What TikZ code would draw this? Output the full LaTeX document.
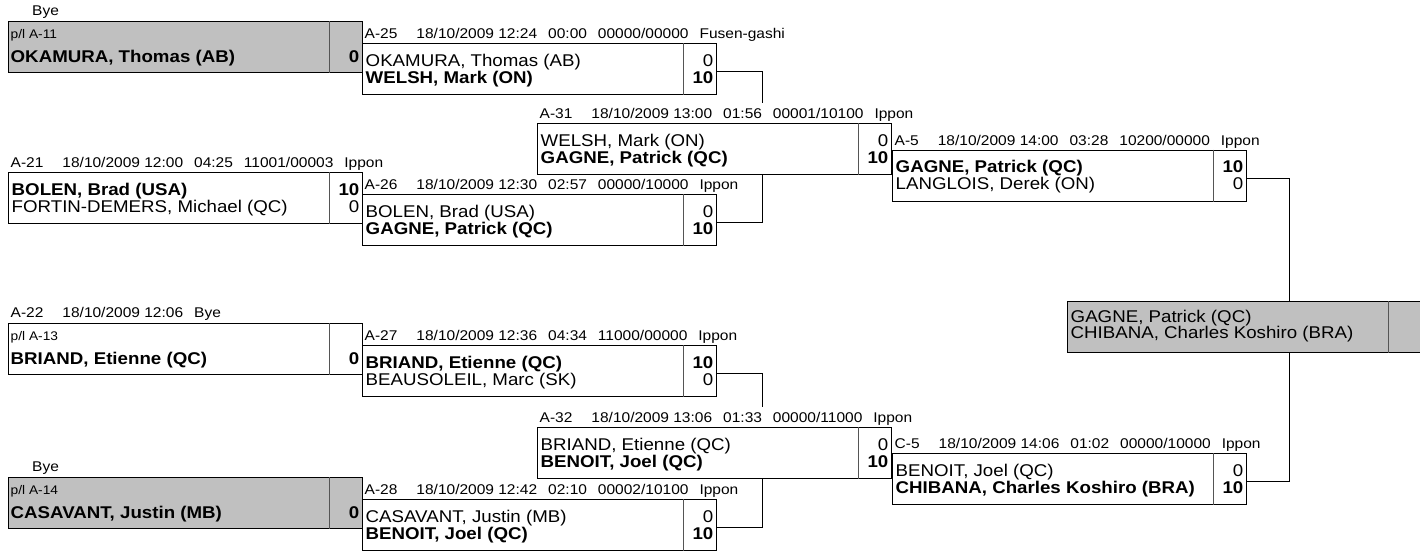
\documentclass[tikz,border=0pt]{standalone}
\usepackage{fontspec}
\setmainfont{Liberation Sans}[FakeStretch=1.1]
\usetikzlibrary{positioning, calc}
\definecolor{ByeGray}{HTML}{C0C0C0}
\definecolor{Rule}{HTML}{555555}
\newcommand{\namefont}{\fontsize{17pt}{17pt}\selectfont}
\newcommand{\hdrfont}{\fontsize{14.1pt}{14pt}\selectfont}
\newcommand{\tagfont}{\fontsize{12.5pt}{12pt}\selectfont}
\newcommand{\wgap}{\hspace{19pt}}
\newcommand{\ngap}{\hspace{11pt}}
\newcommand{\hd}[5]{#1\wgap#2\ngap#3\ngap#4\ngap#5}
\tikzset{
    box/.style={draw, line width=1pt, anchor=north west, minimum width=354pt, minimum height=51pt, inner sep=0pt},
    divider/.style={line width=0.8pt, draw=Rule},
    hdr/.style={anchor=base west, inner sep=0pt, font=\hdrfont},
    player/.style={anchor=base west, inner sep=0pt, font=\namefont},
    score/.style={anchor=base east, inner sep=0pt, font=\namefont},
    tag/.style={anchor=base west, inner sep=0pt, font=\tagfont},
    link/.style={line width=1pt},
}
% match: name, x, y, header, player 1, score 1, player 2, score 2
\newcommand{\matchbox}[8]{%
    \node[box] (#1) at (#2,#3) {};
    \draw[divider] ([xshift=-33pt]#1.north east) -- ([xshift=-33pt]#1.south east);
    \node[hdr] (#1h) at ([xshift=3pt,yshift=4.5pt]#1.north west) {#4};
    \node[player] (#1a) at ([xshift=4pt,yshift=-23pt]#1.north west) {#5};
    \node[score] (#1as) at ([xshift=-3pt,yshift=-23pt]#1.north east) {#6};
    \node[player] (#1b) at ([xshift=4pt,yshift=-40pt]#1.north west) {#7};
    \node[score] (#1bs) at ([xshift=-3pt,yshift=-40pt]#1.north east) {#8};
}
% bye: fill, name, x, y, header, pool tag, player
\newcommand{\byebox}[7][white]{%
    \node[box, fill=#1] (#2) at (#3,#4) {};
    \draw[divider] ([xshift=-33pt]#2.north east) -- ([xshift=-33pt]#2.south east);
    \node[hdr] (#2h) at ([xshift=3pt,yshift=5.5pt]#2.north west) {#5};
    \node[tag] (#2t) at ([xshift=3pt,yshift=-17pt]#2.north west) {p/l #6};
    \node[player] (#2a) at ([xshift=3pt,yshift=-41pt]#2.north west) {\bfseries #7};
    \node[score] (#2as) at ([xshift=-3pt,yshift=-41pt]#2.north east) {\bfseries 0};
}

\begin{document}
\begin{tikzpicture}[x=1pt, y=-1pt]
    \useasboundingbox (0,0) rectangle (1420,552);
    \clip (0,0) rectangle (1420,552);

    % Premier tour
    \byebox[ByeGray]{a11}{7.5}{21}{\hspace{21.5pt}Bye}{A-11}{OKAMURA, Thomas (AB)}
    \matchbox{a21}{7.5}{172}{\hd{A-21}{18/10/2009 12:00}{04:25}{11001/00003}{Ippon}}{\bfseries BOLEN, Brad (USA)}{\bfseries 10}{FORTIN-DEMERS, Michael (QC)}{0}
    \byebox{a22}{7.5}{323}{A-22\wgap 18/10/2009 12:06\ngap Bye}{A-13}{BRIAND, Etienne (QC)}
    \byebox[ByeGray]{a14}{7.5}{477}{\hspace{21.5pt}Bye}{A-14}{CASAVANT, Justin (MB)}

    % Deuxieme tour
    \matchbox{a25}{361.5}{43}{\hd{A-25}{18/10/2009 12:24}{00:00}{00000/00000}{Fusen-gashi}}{OKAMURA, Thomas (AB)}{0}{\bfseries WELSH, Mark (ON)}{\bfseries 10}
    \matchbox{a26}{361.5}{194}{\hd{A-26}{18/10/2009 12:30}{02:57}{00000/10000}{Ippon}}{BOLEN, Brad (USA)}{0}{\bfseries GAGNE, Patrick (QC)}{\bfseries 10}
    \matchbox{a27}{361.5}{345}{\hd{A-27}{18/10/2009 12:36}{04:34}{11000/00000}{Ippon}}{\bfseries BRIAND, Etienne (QC)}{\bfseries 10}{BEAUSOLEIL, Marc (SK)}{0}
    \matchbox{a28}{361.5}{499}{\hd{A-28}{18/10/2009 12:42}{02:10}{00002/10100}{Ippon}}{CASAVANT, Justin (MB)}{0}{\bfseries BENOIT, Joel (QC)}{\bfseries 10}

    % Troisieme tour
    \matchbox{a31}{536.5}{123}{\hd{A-31}{18/10/2009 13:00}{01:56}{00001/10100}{Ippon}}{WELSH, Mark (ON)}{0}{\bfseries GAGNE, Patrick (QC)}{\bfseries 10}
    \matchbox{a32}{536.5}{427}{\hd{A-32}{18/10/2009 13:06}{01:33}{00000/11000}{Ippon}}{BRIAND, Etienne (QC)}{0}{\bfseries BENOIT, Joel (QC)}{\bfseries 10}

    % Bronze
    \matchbox{a5}{891.5}{149.5}{\hd{A-5}{18/10/2009 14:00}{03:28}{10200/00000}{Ippon}}{\bfseries GAGNE, Patrick (QC)}{\bfseries 10}{LANGLOIS, Derek (ON)}{0}
    \matchbox{c5}{891.5}{453}{\hd{C-5}{18/10/2009 14:06}{01:02}{00000/10000}{Ippon}}{BENOIT, Joel (QC)}{0}{\bfseries CHIBANA, Charles Koshiro (BRA)}{\bfseries 10}

    % Resultat
    \node[box, fill=ByeGray] (fin) at (1066.5,301) {};
    \draw[divider] ([xshift=-33pt]fin.north east) -- ([xshift=-33pt]fin.south east);
    \node[player] (fina) at ([xshift=4pt,yshift=-21pt]fin.north west) {GAGNE, Patrick (QC)};
    \node[player] (finb) at ([xshift=4pt,yshift=-37pt]fin.north west) {CHIBANA, Charles Koshiro (BRA)};

    % Liens
    \coordinate (j3) at (762,0);
    \coordinate (j5) at (1289,0);
    \draw[link] ([yshift=-2.5pt]a25.east) -| ($(a31.north -| j3)+(0,-20)$);
    \draw[link] ([yshift=-2.5pt]a26.east) -| (a31.south -| j3);
    \draw[link] ([yshift=-2.5pt]a27.east) -| ($(a32.north -| j3)+(0,-20)$);
    \draw[link] ([yshift=-2.5pt]a28.east) -| (a32.south -| j3);
    \draw[link] ([yshift=-2.5pt]a5.east) -| (fin.north -| j5);
    \draw[link] ([yshift=-2.5pt]c5.east) -| (fin.south -| j5);
\end{tikzpicture}
\end{document}
